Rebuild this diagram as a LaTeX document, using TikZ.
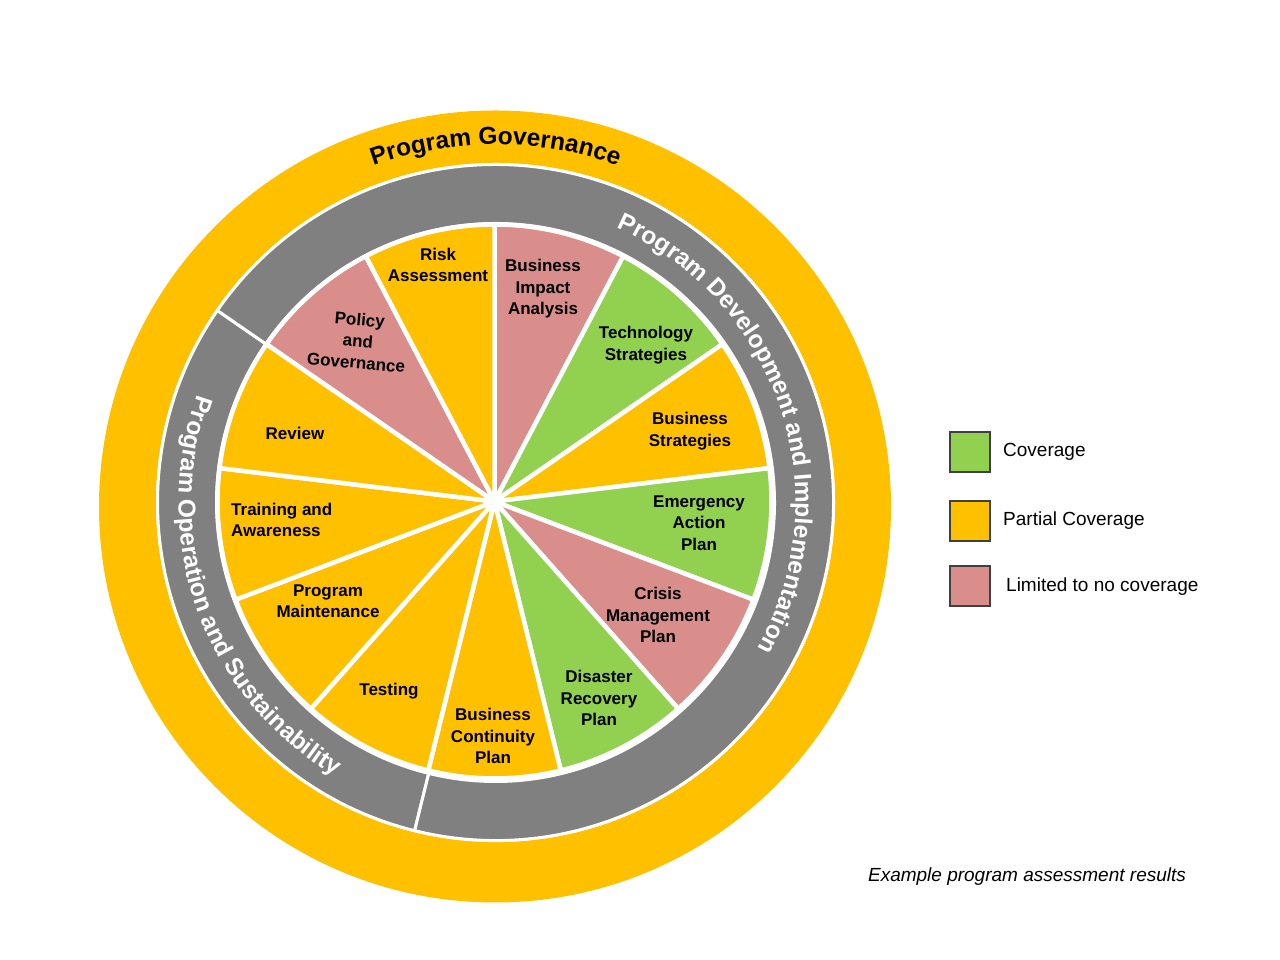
\documentclass[tikz,border=0pt]{standalone}
\usepackage{fontspec}
\setmainfont{Liberation Sans}
\usetikzlibrary{decorations.text}
\definecolor{cyellow}{HTML}{FFC000}
\definecolor{cgrey}{HTML}{808080}
\definecolor{cgreen}{HTML}{92D050}
\definecolor{cpink}{HTML}{D98E8B}
\newcommand{\ringfont}{\fontsize{24.5}{24.5}\selectfont\bfseries}
\begin{document}
\begin{tikzpicture}[x=1pt,y=1pt,
  wedge/.style={draw=white, line width=4.5pt, line join=round},
  seclabel/.style={font=\fontsize{17}{21.5}\selectfont\bfseries, align=center, text=black, inner sep=0pt},
  ringseg/.style={fill=cgrey, draw=white, line width=3pt},
  legbox/.style={draw=black!75, line width=1.2pt, minimum size=40pt, inner sep=0pt},
  legtext/.style={font=\fontsize{19}{22}\selectfont, anchor=west, inner sep=0pt}]
\useasboundingbox (0,0) rectangle (1280,960);
\coordinate (Y) at (495,453.5);
\coordinate (G) at (495.5,457.5);
\coordinate (P) at (494.5,458.5);
% outer yellow ring
\fill[cyellow] (Y) circle[radius=396pt];
\fill[white] (G) circle[radius=339.5pt];
% grey ring segments
\draw[ringseg] ([shift={(G)}]145.385:338pt) arc[start angle=145.385, end angle=256.154, radius=338pt]
  -- ([shift={(G)}]256.154:279pt) arc[start angle=256.154, end angle=145.385, radius=279pt] -- cycle;
\draw[ringseg] ([shift={(G)}]-103.846:338pt) arc[start angle=-103.846, end angle=145.385, radius=338pt]
  -- ([shift={(G)}]145.385:279pt) arc[start angle=145.385, end angle=-103.846, radius=279pt] -- cycle;
% pie wedges
\foreach \c [count=\i from 0] in {cpink,cgreen,cyellow,cgreen,cpink,cgreen,cyellow,cyellow,cyellow,cyellow,cyellow,cpink,cyellow}{
  \pgfmathsetmacro\a{90-\i*360/13}
  \pgfmathsetmacro\b{\a-360/13}
  \draw[wedge, fill=\c] (P) -- ([shift={(P)}]\a:277pt) arc[start angle=\a, end angle=\b, radius=277pt] -- cycle;
}
\fill[white] (P) circle[radius=5pt];
% sector labels
\node[seclabel] (risk) at (438,695) {Risk\\Assessment};
\node[seclabel] (bia) at (543,671) {Business\\Impact\\Analysis};
\node[seclabel] (tech) at (646,615) {Technology\\Strategies};
\node[seclabel] (bstrat) at (690,529) {Business\\Strategies};
\node[seclabel] (eap) at (699,437) {Emergency\\Action\\Plan};
\node[seclabel] (cmp) at (658,345) {Crisis\\Management\\Plan};
\node[seclabel] (drp) at (599,262) {Disaster\\Recovery\\Plan};
\node[seclabel] (bcp) at (493,224) {Business\\Continuity\\Plan};
\node[seclabel] (test) at (389,269) {Testing};
\node[seclabel] (pm) at (328,359) {Program\\Maintenance};
\node[seclabel, align=left, anchor=west] (train) at (231,440) {Training and\\Awareness};
\node[seclabel] (review) at (295,527) {Review};
\node[seclabel, rotate=-5] (policy) at (358,619) {Policy\\and\\Governance};
% ring labels
\path[decorate, decoration={text along path, text align=center, text color=black,
  text={|\ringfont|Program Governance}}]
  ([shift={(G)}]150:358pt) arc[start angle=150, end angle=30, radius=358pt];
\path[decorate, decoration={text along path, text align=center, text color=white,
  text={|\ringfont|Program Development and Implementation}}]
  ([shift={(G)}]88.5:300pt) arc[start angle=88.5, end angle=-51.5, radius=300pt];
\path[decorate, decoration={text along path, text align=center, text color=white,
  text={|\ringfont|Program Operation and Sustainability}}]
  ([shift={(G)}]129.8:317pt) arc[start angle=129.8, end angle=269.8, radius=317pt];
% legend
\node[legbox, fill=cgreen] (lg1) at (970,508) {};
\node[legbox, fill=cyellow] (lg2) at (970,439) {};
\node[legbox, fill=cpink] (lg3) at (970,374) {};
\node[legtext] (lt1) at (1003,508) {Coverage};
\node[legtext] (lt2) at (1003,439) {Partial Coverage};
\node[legtext] (lt3) at (1006,373) {Limited to no coverage};
% caption
\node[font=\fontsize{19}{22}\selectfont\itshape, inner sep=0pt] (cap) at (1027,83) {Example program assessment results};
\end{tikzpicture}
\end{document}
